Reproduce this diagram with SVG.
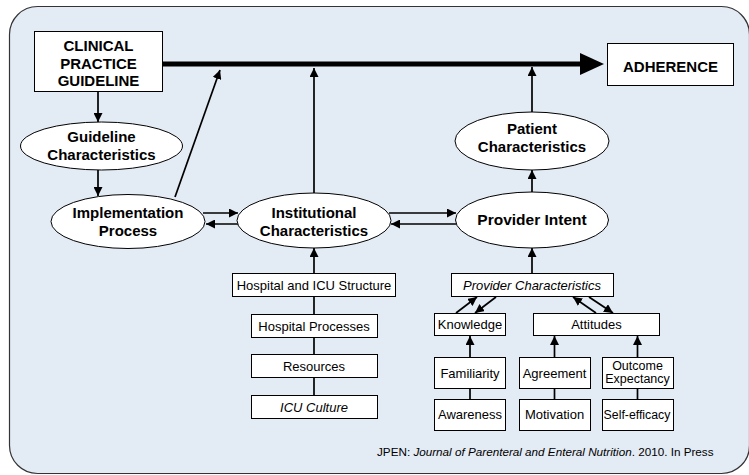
<svg xmlns="http://www.w3.org/2000/svg" width="749" height="475" viewBox="0 0 749 475">
<defs>
<marker id="ah" viewBox="0 0 9 9" refX="9" refY="4.5" markerWidth="9" markerHeight="9" markerUnits="userSpaceOnUse" orient="auto"><path d="M0,0 L9,4.5 L0,9 z" fill="#000"/></marker>
<marker id="big" viewBox="0 0 24 22" refX="10" refY="11" markerWidth="24" markerHeight="22" markerUnits="userSpaceOnUse" orient="auto"><path d="M0,0 L24,11 L0,22 z" fill="#000"/></marker>
</defs>
<style>
.bg{fill:#e3ebf4;stroke:#333;stroke-width:1.2}
.box{fill:#fff;stroke:#000;stroke-width:1}
.ell{fill:#fff;stroke:#000;stroke-width:1}
.b{font-family:"Liberation Sans",Arial,sans-serif;font-weight:bold;font-size:15px;fill:#000;text-anchor:middle}
.r{font-family:"Liberation Sans",Arial,sans-serif;font-size:13px;fill:#000;text-anchor:middle}
.i{font-style:italic}
.ln{stroke:#000;stroke-width:1.7;fill:none}
.ar{stroke:#000;stroke-width:1.7;fill:none;marker-end:url(#ah)}
.ft{font-family:"Liberation Sans",Arial,sans-serif;font-size:11.7px;fill:#000}
</style>
<rect class="bg" x="9.5" y="6.5" width="740" height="467" rx="28" ry="28"/>

<g id="connectors">
<line x1="163" y1="64" x2="590" y2="64" stroke="#000" stroke-width="5" marker-end="url(#big)"/>
<line class="ar" x1="98" y1="92" x2="98" y2="122"/>
<line class="ar" x1="98" y1="170" x2="98" y2="196"/>
<line class="ar" x1="175" y1="197" x2="220" y2="70"/>
<line class="ar" x1="203" y1="213" x2="238" y2="213"/>
<line class="ar" x1="239" y1="224" x2="206" y2="224"/>
<line class="ar" x1="389" y1="213" x2="456" y2="213"/>
<line class="ar" x1="456" y1="224" x2="391" y2="224"/>
<line class="ar" x1="314" y1="193" x2="314" y2="68"/>
<line class="ar" x1="314" y1="273" x2="314" y2="248"/>
<line class="ln" x1="314" y1="296" x2="314" y2="314"/>
<line class="ln" x1="314" y1="337" x2="314" y2="354"/>
<line class="ln" x1="314" y1="377" x2="314" y2="395"/>
<line class="ar" x1="532" y1="192" x2="532" y2="170"/>
<line class="ar" x1="532" y1="112" x2="532" y2="67"/>
<line class="ar" x1="532" y1="273" x2="532" y2="248"/>
<line class="ar" x1="456" y1="313" x2="477" y2="297"/>
<line class="ar" x1="496" y1="297" x2="475" y2="313"/>
<line class="ar" x1="596" y1="313" x2="573" y2="297"/>
<line class="ar" x1="589" y1="297" x2="613" y2="313"/>
<line class="ar" x1="470" y1="357" x2="470" y2="336"/>
<line class="ar" x1="554.5" y1="357" x2="554.5" y2="336"/>
<line class="ar" x1="637.5" y1="357" x2="637.5" y2="336"/>
<line class="ln" x1="470" y1="389" x2="470" y2="399"/>
<line class="ln" x1="554.5" y1="389" x2="554.5" y2="399"/>
<line class="ln" x1="637.5" y1="389" x2="637.5" y2="399"/>
</g>

<g id="cpg"><rect class="box" x="34.5" y="31.5" width="128" height="60"/>
<text class="b" x="98.5" y="51">CLINICAL</text><text class="b" x="98.5" y="68.5">PRACTICE</text><text class="b" x="98.5" y="86">GUIDELINE</text></g>
<g id="adherence"><rect class="box" x="607.5" y="43.5" width="126" height="42"/>
<text class="b" x="670.5" y="72">ADHERENCE</text></g>
<g id="guideline"><ellipse class="ell" cx="101.5" cy="146" rx="81" ry="24"/>
<text class="b" x="101.5" y="142">Guideline</text><text class="b" x="101.5" y="159.5">Characteristics</text></g>
<g id="implementation"><ellipse class="ell" cx="128" cy="221.5" rx="77" ry="27"/>
<text class="b" x="128" y="218">Implementation</text><text class="b" x="128" y="235.5">Process</text></g>
<g id="institutional"><ellipse class="ell" cx="314" cy="220.5" rx="77" ry="27.5"/>
<text class="b" x="314" y="217.5">Institutional</text><text class="b" x="314" y="235.5">Characteristics</text></g>
<g id="provider-intent"><ellipse class="ell" cx="532" cy="220" rx="76.5" ry="28"/>
<text class="b" x="532" y="225" style="font-size:15.5px">Provider Intent</text></g>
<g id="patient"><ellipse class="ell" cx="532" cy="141" rx="77" ry="29"/>
<text class="b" x="532" y="133.5">Patient</text><text class="b" x="532" y="151.5">Characteristics</text></g>

<g id="hospital-structure"><rect class="box" x="232.5" y="273.5" width="163" height="23"/><text class="r" x="314" y="290">Hospital and ICU Structure</text></g>
<g id="hospital-processes"><rect class="box" x="251.5" y="314.5" width="126" height="23"/><text class="r" x="314" y="330.5">Hospital Processes</text></g>
<g id="resources"><rect class="box" x="251.5" y="354.5" width="126" height="23"/><text class="r" x="314" y="371">Resources</text></g>
<g id="icu-culture"><rect class="box" x="251.5" y="395.5" width="126" height="23"/><text class="r i" x="314" y="412">ICU Culture</text></g>

<g id="provider-characteristics"><rect class="box" x="451.5" y="273.5" width="162" height="23"/><text class="r i" x="532" y="290">Provider Characteristics</text></g>
<g id="knowledge"><rect class="box" x="434.5" y="313.5" width="71" height="22"/><text class="r" x="470" y="329">Knowledge</text></g>
<g id="attitudes"><rect class="box" x="533.5" y="313.5" width="126" height="22"/><text class="r" x="596.5" y="328.5">Attitudes</text></g>
<g id="familiarity"><rect class="box" x="434.5" y="357.5" width="71" height="31"/><text class="r" x="470" y="378">Familiarity</text></g>
<g id="agreement"><rect class="box" x="519.5" y="357.5" width="71" height="31"/><text class="r" x="554.5" y="378">Agreement</text></g>
<g id="outcome"><rect class="box" x="602.5" y="357.5" width="71" height="31"/><text class="r" x="637.5" y="369.5" style="font-size:12.5px">Outcome</text><text class="r" x="637.5" y="383" style="font-size:12.5px">Expectancy</text></g>
<g id="awareness"><rect class="box" x="434.5" y="399.5" width="71" height="31"/><text class="r" x="470" y="419">Awareness</text></g>
<g id="motivation"><rect class="box" x="519.5" y="399.5" width="71" height="31"/><text class="r" x="554.5" y="419">Motivation</text></g>
<g id="self-efficacy"><rect class="box" x="602.5" y="399.5" width="71" height="31"/><text class="r" x="637" y="419" style="font-size:12.3px">Self-efficacy</text></g>

<text class="ft" x="377" y="456">JPEN: <tspan font-style="italic">Journal of Parenteral and Enteral Nutrition</tspan>. 2010. In Press</text>
</svg>
